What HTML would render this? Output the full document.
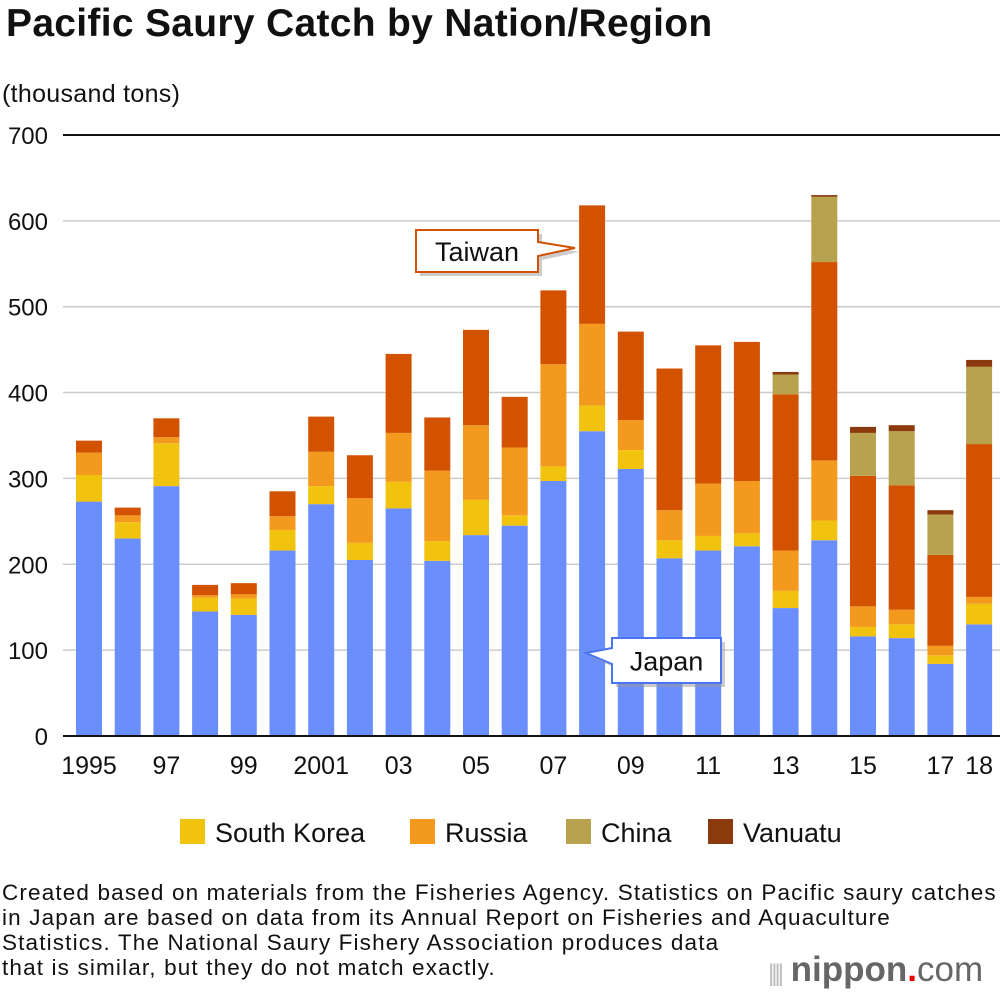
<!DOCTYPE html>
<html><head><meta charset="utf-8"><style>
body{margin:0;background:#fff;font-family:"Liberation Sans",Arial,sans-serif;}
#wrap{position:relative;width:1000px;height:996px;overflow:hidden;}
.t{position:absolute;color:#111;white-space:nowrap;}
</style></head><body>
<div id="wrap">
<div class="t" style="left:6px;top:2px;font-size:39px;font-weight:bold;letter-spacing:0.3px">Pacific Saury Catch by Nation/Region</div>
<div class="t" style="left:2px;top:80px;font-size:25px;letter-spacing:0.3px">(thousand tons)</div>
<svg id="chart" width="1000" height="870" style="position:absolute;left:0;top:0"></svg>
<div class="t" style="left:2px;top:880px;font-size:22.5px;line-height:25px;letter-spacing:1.15px">Created based on materials from the Fisheries Agency. Statistics on Pacific saury catches<br>in Japan are based on data from its Annual Report on Fisheries and Aquaculture<br>Statistics. The National Saury Fishery Association produces data<br>that is similar, but they do not match exactly.</div>
<div style="position:absolute;left:768px;top:952px;font-size:35px;color:#666;font-weight:bold;line-height:36px;white-space:nowrap"><span style="color:#bbb;font-weight:normal;font-size:24px;letter-spacing:-3px">||||</span> nippon<span style="color:#e00">.</span><span style="font-weight:normal">com</span></div>
</div>
<script>
const years=["1995","","97","","99","","2001","","03","","05","","07","","09","","11","","13","","15","","17","18"];
const japan=[273,230,291,145,141,216,270,205,265,204,234,245,297,355,311,207,216,221,149,228,116,114,84,130];
const korea=[31,19,50,16,19,24,21,20,31,23,41,12,17,30,22,21,17,15,20,23,11,16,10,24];
const russia=[26,8,7,3,5,16,40,52,57,82,87,79,119,95,35,35,61,61,47,70,24,17,11,8];
const taiwan=[14,9,22,12,13,29,41,50,92,62,111,59,86,138,103,165,161,162,182,231,152,145,106,178];
const china=[0,0,0,0,0,0,0,0,0,0,0,0,0,0,0,0,0,0,23,76,50,63,47,90];
const vanuatu=[0,0,0,0,0,0,0,0,0,0,0,0,0,0,0,0,0,0,3,2,7,7,5,8];
const yTicks=[0,100,200,300,400,500,600,700];
const series=[["japan",japan,"#6a8ffd"],["south-korea",korea,"#f1c30f"],["russia",russia,"#f39a1e"],["taiwan",taiwan,"#d35200"],["china",china,"#b8a24e"],["vanuatu",vanuatu,"#8a3a0c"]];
const svg=document.getElementById('chart');const NS="http://www.w3.org/2000/svg";
const y=v=>736-v*0.8586;const x=i=>89+i*38.7;
function mk(t,a){const e=document.createElementNS(NS,t);for(const k in a)e.setAttribute(k,a[k]);svg.appendChild(e);return e;}
yTicks.forEach(v=>{const l=mk('line',{x1:63,x2:1000,y1:y(v),y2:y(v),stroke:v==700?'#111':'#ccc','stroke-width':v==700?2:1.5});


const t=mk('text',{x:48,y:y(v)+9,'text-anchor':'end','font-size':24,fill:'#111','font-family':'Liberation Sans'});t.textContent=v;

});
years.forEach((yr,i)=>{let acc=0;series.forEach(([n,arr,c])=>{const v=arr[i];if(v>0){const r=mk('rect',{x:x(i)-13,y:y(acc+v),width:26,height:y(acc)-y(acc+v),fill:c});

}acc+=v;});
if(yr){const t=mk('text',{x:x(i),y:774,'text-anchor':'middle','font-size':25,fill:'#111','font-family':'Liberation Sans'});t.textContent=yr;

}});
mk('line',{x1:63,x2:1000,y1:736,y2:736,stroke:'#111','stroke-width':2});
function callout(name,px,py,w,h,pts,color,label){
const s=mk('polygon',{points:pts,fill:'#999',opacity:0.5,transform:'translate(4,4)'});


const g=mk('polygon',{points:pts,fill:'#fff',stroke:color,'stroke-width':2});


const t=mk('text',{x:px+w/2,y:py+h/2+10,'text-anchor':'middle','font-size':27,fill:'#111','font-family':'Liberation Sans'});t.textContent=label;

}
callout('taiwan',416,230,122,42,"416,230 538,230 538,242 575,248 538,256 538,272 416,272",'#d35200','Taiwan');
callout('japan',612,638,109,45,"612,638 721,638 721,683 612,683 612,664 586,653 612,648",'#4a74f0','Japan');
const leg=[["South Korea","#f1c30f",180],["Russia","#f39a1e",410],["China","#b8a24e",566],["Vanuatu","#8a3a0c",708]];
leg.forEach(([n,c,lx])=>{const r=mk('rect',{x:lx,y:819,width:25,height:25,fill:c});


const t=mk('text',{x:lx+35,y:842,'font-size':27,fill:'#111','font-family':'Liberation Sans'});t.textContent=n;

});
</script>
</body></html>
